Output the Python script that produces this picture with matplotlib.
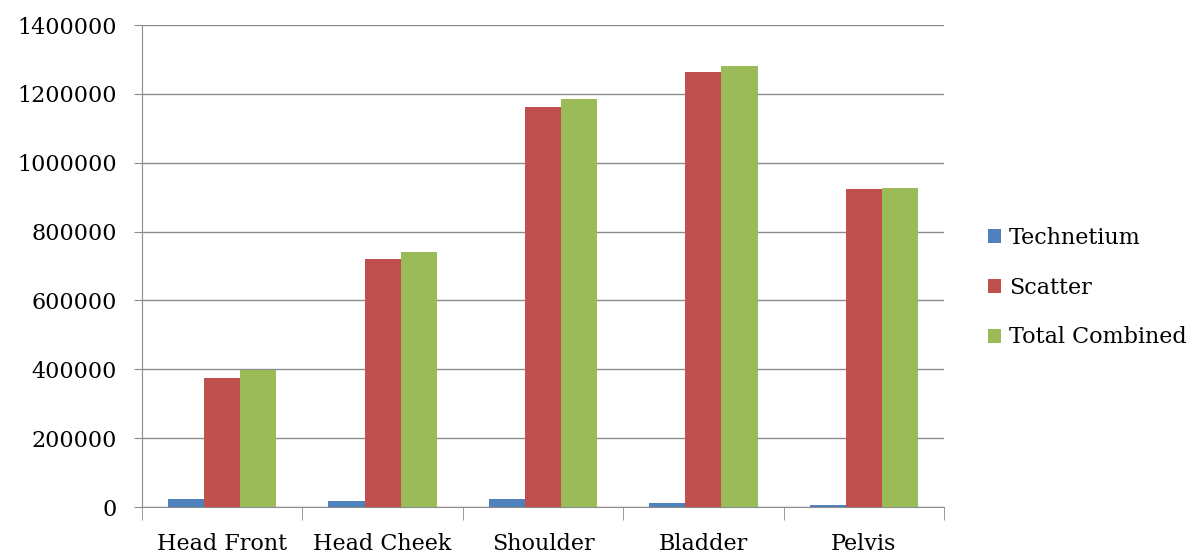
import numpy as np
import matplotlib.pyplot as plt

# Data
categories = ["Head Front", "Head Cheek", "Shoulder", "Bladder", "Pelvis"]
technetium = [22000, 17500, 22000, 12500, 6000]
scatter = [374000, 720000, 1162000, 1264000, 924000]
total_combined = [399000, 742000, 1186000, 1282000, 928000]

series_names = ["Technetium", "Scatter", "Total Combined"]
colors = ["#4F81BD", "#C0504D", "#9BBB59"]

plt.rcParams['font.family'] = ['DejaVu Serif']

fig = plt.figure(figsize=(11.97, 5.54), dpi=100)
ax = fig.add_axes([142 / 1197, 1 - 507 / 554, 802 / 1197, 482 / 554])

x = np.arange(len(categories))
width = 0.225
for i, (vals, name, c) in enumerate(zip([technetium, scatter, total_combined], series_names, colors)):
    ax.bar(x + (i - 1) * width, vals, width, color=c, label=name, zorder=3)

ax.set_xlim(-0.5, len(categories) - 0.5)
ax.set_ylim(0, 1400000)
ax.set_yticks(np.arange(0, 1400001, 200000))
ax.set_yticklabels([str(v) for v in range(0, 1400001, 200000)], fontsize=16)
ax.yaxis.grid(True, color="#8c8c8c", linewidth=1, zorder=0)

ax.set_xticks(x)
ax.set_xticklabels(categories, fontsize=16)
ax.set_xticks(np.arange(-0.5, len(categories), 1), minor=True)
ax.tick_params(axis='x', which='major', length=0, pad=19)
ax.tick_params(axis='x', which='minor', length=9, color="#8c8c8c")
ax.tick_params(axis='y', length=6, color="#8c8c8c", pad=12)

for side in ["top", "right"]:
    ax.spines[side].set_visible(False)
for side in ["left", "bottom"]:
    ax.spines[side].set_color("#8c8c8c")

ax.legend(loc="center left", bbox_to_anchor=(1.03, 0.455), frameon=False, fontsize=16,
          handlelength=0.6, handleheight=0.6, handletextpad=0.35, labelspacing=1.25)

fig.savefig("out.png", dpi=100)
